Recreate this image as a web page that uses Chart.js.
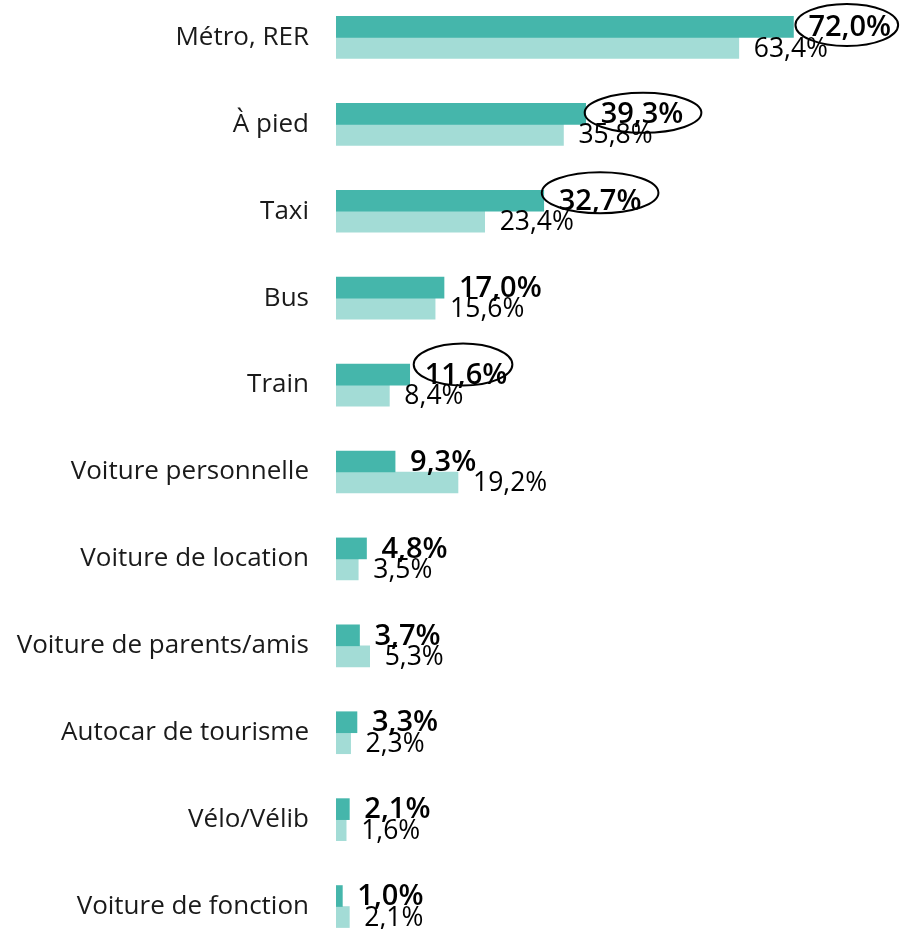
<!DOCTYPE html>
<html>
<head>
<meta charset="utf-8">
<script src="https://cdn.jsdelivr.net/npm/chart.js@4.4.1/dist/chart.umd.min.js"></script>
<style>
  html, body { margin: 0; padding: 0; background: #ffffff; overflow: hidden; width: 904px; height: 929px; }
  #c { position: absolute; left: 0; top: -6px; }
</style>
</head>
<body>
<canvas id="c" width="904" height="956"></canvas>
<script>
const categories = [
  "Métro, RER", "À pied", "Taxi", "Bus", "Train", "Voiture personnelle",
  "Voiture de location", "Voiture de parents/amis", "Autocar de tourisme",
  "Vélo/Vélib", "Voiture de fonction"
];
const seriesDark = [72.0, 39.3, 32.7, 17.0, 11.6, 9.3, 4.8, 3.7, 3.3, 2.1, 1.0];
const seriesLight = [63.4, 35.8, 23.4, 15.6, 8.4, 19.2, 3.5, 5.3, 2.3, 1.6, 2.1];
// annotation ellipses around selected dark-series labels: category index and shape tweaks
const circled = [
  { index: 0, dx: -3, dy: -2, padX: 10, ry: 21 },
  { index: 1, dx: 1, dy: -1, padX: 17, ry: 20 },
  { index: 2, dx: 0, dy: -8, padX: 17, ry: 20.5 },
  { index: 4, dx: -3, dy: -10, padX: 8, ry: 21 }
];

const FONT = "'Open Sans', Roboto, sans-serif";
const fmt = v => v.toFixed(1).replace('.', ',') + '%';

const labelPlugin = {
  id: 'valueLabels',
  afterDatasetsDraw(chart) {
    const ctx = chart.ctx;
    ctx.save();
    ctx.textBaseline = 'middle';
    ctx.textAlign = 'left';
    ctx.fillStyle = '#000000';
    // light series labels
    const m1 = chart.getDatasetMeta(1);
    ctx.font = "400 26.5px " + FONT;
    m1.data.forEach((bar, i) => {
      ctx.fillText(fmt(seriesLight[i]), bar.x + 15, bar.y + 1);
    });
    // dark series labels
    const m0 = chart.getDatasetMeta(0);
    ctx.font = "600 29px " + FONT;
    m0.data.forEach((bar, i) => {
      ctx.fillText(fmt(seriesDark[i]), bar.x + 15, bar.y + 1);
    });
    // ellipses
    ctx.strokeStyle = '#000000';
    ctx.lineWidth = 2;
    circled.forEach(c => {
      const bar = m0.data[c.index];
      const w = ctx.measureText(fmt(seriesDark[c.index])).width;
      const cx = bar.x + 15 + w / 2 + c.dx;
      const cy = bar.y + c.dy;
      ctx.beginPath();
      ctx.ellipse(cx, cy, w / 2 + c.padX, c.ry, 0, 0, Math.PI * 2);
      ctx.stroke();
    });
    ctx.restore();
  }
};

new Chart(document.getElementById('c'), {
  type: 'bar',
  data: {
    labels: categories,
    datasets: [
      { data: seriesDark, backgroundColor: '#45b6ab', barThickness: 21 },
      { data: seriesLight, backgroundColor: '#a3dcd6', barThickness: 21 }
    ]
  },
  options: {
    indexAxis: 'y',
    responsive: false,
    animation: false,
    layout: { padding: 0 },
    plugins: { legend: { display: false }, tooltip: { enabled: false } },
    scales: {
      x: {
        display: false,
        min: 0,
        max: 89.4
      },
      y: {
        grid: { display: false, drawTicks: false },
        border: { display: false },
        afterFit(scale) {
          scale.width = 336;
          scale.paddingTop = 0;
          scale.paddingBottom = 0;
        },
        ticks: {
          padding: 27,
          color: '#1a1a1a',
          font: { family: FONT, size: 26 }
        }
      }
    }
  },
  plugins: [labelPlugin]
});
</script>
</body>
</html>
